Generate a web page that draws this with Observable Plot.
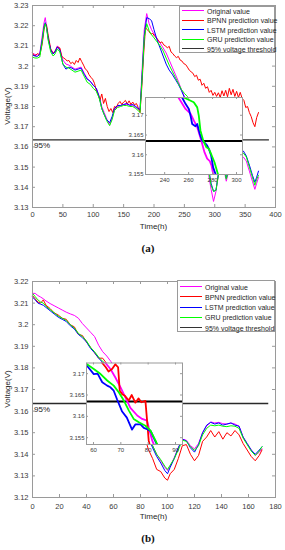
<!DOCTYPE html>
<html><head><meta charset="utf-8">
<script src="https://cdn.jsdelivr.net/npm/d3@7"></script>
<script src="https://cdn.jsdelivr.net/npm/@observablehq/plot@0.6"></script>
<style>
body{margin:0;background:#fff;}
#root{position:relative;width:285px;height:550px;overflow:hidden;font-family:"Liberation Sans",Arial,sans-serif;background:#fff;}
.lbl{position:absolute;white-space:nowrap;line-height:1;color:#262626;}
.legend{position:absolute;background:#fff;border:1px solid #9a9a9a;box-sizing:border-box;}
.legend .row{position:absolute;left:0;width:100%;height:0;}
.legend .sw{position:absolute;left:2px;width:22px;top:-1px;height:0;border-top:1.6px solid;}
.legend .tx{position:absolute;left:27px;top:-4.5px;font-size:7px;line-height:9px;color:#262626;white-space:nowrap;}
</style></head>
<body><div id="root"></div>
<script>
// ---------------- data: panel (a) ----------------
const timeA = [0,4,8,12,16,19,21,23,26,30,
  34,37,41,45,50,55,60,65,70,75,
  80,85,90,95,100,105,110,114,118,122,
  127,131,135,140,145,150,155,160,165,170,
  174,177,180,184,188,192,196,200,205,210,
  215,220,225,230,235,240,245,250,255,260,
  265,270,275,280,285,290,294,298,302,306,
  310,315,319,323,328,335,341,347,352,357,
  362,366,369,372];
const originalA = [3.2062,3.2058,3.2055,3.2062,3.2150,3.2215,3.2240,3.2200,3.2130,3.2080,
  3.2060,3.2075,3.2100,3.2085,3.2030,3.2010,3.2005,3.1995,3.1985,3.1990,
  3.1995,3.1965,3.1940,3.1925,3.1905,3.1890,3.1850,3.1800,3.1770,3.1740,
  3.1710,3.1740,3.1785,3.1800,3.1805,3.1810,3.1810,3.1810,3.1805,3.1795,
  3.1790,3.1780,3.1960,3.2180,3.2260,3.2210,3.2180,3.2160,3.2135,3.2115,
  3.2090,3.2065,3.2030,3.1995,3.1960,3.1925,3.1885,3.1850,3.1800,3.1740,
  3.1690,3.1640,3.1590,3.1540,3.1500,3.1460,3.1390,3.1330,3.1380,3.1460,
  3.1520,3.1490,3.1430,3.1480,3.1540,3.1570,3.1565,3.1550,3.1530,3.1480,
  3.1430,3.1390,3.1420,3.1450];
const lstmA = [3.2055,3.2050,3.2048,3.2058,3.2130,3.2195,3.2215,3.2195,3.2135,3.2080,
  3.2060,3.2070,3.2095,3.2080,3.2010,3.1985,3.1995,3.1990,3.1980,3.1985,
  3.1990,3.1960,3.1935,3.1925,3.1905,3.1890,3.1845,3.1790,3.1760,3.1735,
  3.1720,3.1750,3.1790,3.1805,3.1805,3.1810,3.1815,3.1805,3.1810,3.1800,
  3.1790,3.1785,3.1930,3.2150,3.2240,3.2235,3.2225,3.2180,3.2130,3.2090,
  3.2050,3.2010,3.1980,3.1960,3.1935,3.1910,3.1880,3.1845,3.1800,3.1750,
  3.1700,3.1650,3.1610,3.1570,3.1530,3.1490,3.1420,3.1380,3.1385,3.1470,
  3.1540,3.1510,3.1445,3.1500,3.1560,3.1590,3.1595,3.1580,3.1555,3.1510,
  3.1460,3.1425,3.1450,3.1480];
const gruA = [3.2045,3.2040,3.2040,3.2045,3.2120,3.2190,3.2210,3.2190,3.2125,3.2070,
  3.2050,3.2060,3.2085,3.2070,3.2010,3.1995,3.1990,3.1980,3.1970,3.1975,
  3.1980,3.1950,3.1920,3.1910,3.1890,3.1875,3.1840,3.1790,3.1760,3.1730,
  3.1705,3.1735,3.1780,3.1795,3.1800,3.1805,3.1805,3.1800,3.1800,3.1790,
  3.1780,3.1770,3.1920,3.2140,3.2210,3.2175,3.2155,3.2140,3.2120,3.2100,
  3.2075,3.2040,3.2005,3.1975,3.1945,3.1915,3.1885,3.1865,3.1850,3.1830,
  3.1780,3.1690,3.1630,3.1580,3.1530,3.1480,3.1410,3.1380,3.1385,3.1460,
  3.1530,3.1500,3.1440,3.1490,3.1550,3.1580,3.1585,3.1570,3.1550,3.1500,
  3.1450,3.1410,3.1440,3.1460];
// BPNN (a) has its own, denser time base (noisy curve)
const timeBpnnA = [0,4,8,12,16,19,21,23,26,30,34,37,41,45,
  48,51,54,57,60,63,66,69,72,75,
  78,81,84,87,90,93,96,99,102,105,
  108,111,114,117,120,123,126,129,132,135,
  138,141,144,147,150,153,156,159,162,165,
  168,171,174,177,180,183,186,189,192,195,
  198,201,204,207,210,213,216,219,222,225,
  228,231,234,237,240,243,246,249,252,255,
  258,261,264,267,270,273,276,279,282,285,
  288,291,294,297,300,303,306,309,312,315,
  318,321,324,327,330,333,336,339,342,345,
  348,351,354,357,360,363,366,369,372];
const bpnnA = [3.2065,3.2050,3.2062,3.2055,3.2110,3.2180,3.2210,3.2205,3.2150,3.2085,3.2065,3.2070,3.2095,3.2090,
  3.2050,3.2040,3.2035,3.2025,3.2028,3.2012,3.2020,3.2008,3.2028,3.2018,
  3.2040,3.2022,3.2005,3.1985,3.1978,3.1958,3.1945,3.1935,3.1915,3.1880,
  3.1860,3.1830,3.1862,3.1815,3.1840,3.1800,3.1775,3.1790,3.1770,3.1800,
  3.1795,3.1815,3.1825,3.1810,3.1822,3.1830,3.1812,3.1828,3.1810,3.1822,
  3.1808,3.1815,3.1795,3.1770,3.1900,3.2060,3.2190,3.2180,3.2170,3.2158,
  3.2162,3.2148,3.2140,3.2128,3.2115,3.2120,3.2105,3.2100,3.2090,3.2098,
  3.2070,3.2062,3.2050,3.2042,3.2048,3.2030,3.2025,3.2012,3.2008,3.1995,
  3.1980,3.1972,3.1965,3.1948,3.1955,3.1930,3.1935,3.1905,3.1915,3.1890,
  3.1898,3.1870,3.1880,3.1855,3.1870,3.1850,3.1868,3.1845,3.1878,3.1852,
  3.1880,3.1848,3.1890,3.1858,3.1885,3.1850,3.1875,3.1845,3.1870,3.1840,
  3.1830,3.1795,3.1800,3.1770,3.1750,3.1720,3.1700,3.1745,3.1770];

// inset (a) as drawn
const insetA_tOriginal = [248,250.4,253.2,257.4,261.6,264.3,267.2,269.3,271.3,273.3,275.5,277.7,279.1,280.5,282];
const insetA_vOriginal = [3.1765,3.1750,3.1737,3.1716,3.1704,3.1687,3.1670,3.1649,3.1628,3.1606,3.1590,3.1584,3.1573,3.1552,3.1535];
const insetA_tLstm = [252,254.6,257.4,260.2,261.6,263,265.7,267.2,269.3,271.3,274.1,275.5,276.9,278.8,280.5,282.4,284];
const insetA_vLstm = [3.1760,3.1745,3.1729,3.1716,3.1699,3.1678,3.1672,3.1678,3.1653,3.1636,3.1628,3.1623,3.1615,3.1598,3.1568,3.1552,3.1535];
const insetA_tGru = [254,256,264.3,267.2,268.5,269.9,272.2,274.9,276.9,278.8,281.6,284.4,286];
const insetA_vGru = [3.1760,3.1745,3.1733,3.1720,3.1699,3.1661,3.1636,3.1619,3.1615,3.1602,3.1581,3.1552,3.1535];

// ---------------- data: panel (b) ----------------
const timeB = [0,2,4,6,8,10,13,16,19,22,
  25,28,31,34,37,40,43,46,49,52,
  55,58,62,66,70,74,78,82,86,89,
  92,95,98,100,102,105,108,111,114,117,
  120,123,126,129,132,135,138,141,144,147,
  150,153,156,159,162,165,168,170];
const originalB = [3.2145,3.2145,3.2135,3.2128,3.2120,3.2110,3.2098,3.2088,3.2078,3.2068,
  3.2058,3.2050,3.2043,3.2030,3.2005,3.1985,3.1965,3.1945,3.1905,3.1875,
  3.1855,3.1830,3.1790,3.1740,3.1680,3.1620,3.1590,3.1540,3.1480,3.1440,
  3.1400,3.1370,3.1340,3.1325,3.1345,3.1385,3.1430,3.1470,3.1465,3.1440,
  3.1425,3.1450,3.1500,3.1530,3.1550,3.1545,3.1548,3.1542,3.1540,3.1545,
  3.1540,3.1530,3.1480,3.1450,3.1420,3.1395,3.1410,3.1425];
const bpnnB = [3.2135,3.2120,3.2105,3.2100,3.2115,3.2090,3.2075,3.2055,3.2045,3.2030,
  3.2025,3.2000,3.1990,3.1955,3.1950,3.1920,3.1895,3.1870,3.1845,3.1845,
  3.1820,3.1800,3.1740,3.1710,3.1655,3.1645,3.1635,3.1500,3.1420,3.1380,
  3.1330,3.1320,3.1290,3.1280,3.1310,3.1330,3.1380,3.1440,3.1445,3.1400,
  3.1370,3.1395,3.1460,3.1480,3.1510,3.1480,3.1505,3.1470,3.1500,3.1485,
  3.1510,3.1490,3.1450,3.1420,3.1390,3.1370,3.1395,3.1420];
const lstmB = [3.2128,3.2115,3.2100,3.2095,3.2090,3.2080,3.2065,3.2050,3.2035,3.2025,
  3.2015,3.1995,3.1980,3.1955,3.1940,3.1920,3.1890,3.1870,3.1845,3.1825,
  3.1810,3.1770,3.1720,3.1680,3.1630,3.1580,3.1570,3.1540,3.1475,3.1430,
  3.1390,3.1360,3.1325,3.1310,3.1340,3.1380,3.1430,3.1470,3.1462,3.1430,
  3.1410,3.1445,3.1500,3.1535,3.1548,3.1540,3.1545,3.1535,3.1540,3.1545,
  3.1535,3.1530,3.1480,3.1450,3.1420,3.1400,3.1420,3.1435];
const gruB = [3.2145,3.2130,3.2115,3.2105,3.2100,3.2085,3.2070,3.2055,3.2040,3.2030,
  3.2020,3.2000,3.1985,3.1960,3.1945,3.1925,3.1895,3.1875,3.1850,3.1830,
  3.1815,3.1790,3.1740,3.1690,3.1650,3.1600,3.1580,3.1545,3.1480,3.1440,
  3.1400,3.1375,3.1345,3.1330,3.1350,3.1380,3.1420,3.1465,3.1460,3.1435,
  3.1418,3.1440,3.1490,3.1520,3.1535,3.1532,3.1535,3.1530,3.1528,3.1532,
  3.1530,3.1520,3.1475,3.1445,3.1415,3.1395,3.1415,3.1435];

// inset (b) as drawn
const insetB_tOriginal = [63,64.4,66.2,68,69.9,71.7,73.5,76,77.8,79.6,80.2,81.5,83];
const insetB_vOriginal = [3.1735,3.1725,3.1711,3.1691,3.1668,3.1644,3.1620,3.1602,3.1594,3.1590,3.1574,3.1543,3.1520];
const insetB_tBpnn = [61,63.2,64.5,65.5,66.8,68,69,69.6,70.5,71.5,72.9,74,75.3,76.5,77.5,79,79.6,80.2,81];
const insetB_vBpnn = [3.1740,3.1725,3.1715,3.1705,3.1711,3.1722,3.1715,3.1660,3.1652,3.1648,3.1637,3.1650,3.1632,3.1642,3.1633,3.1636,3.1590,3.1543,3.1520];
const insetB_tLstm = [57,57.7,60.1,61.5,63.2,65,66.2,67.4,68.6,70.4,72.2,74.1,75.3,77.2,78.4,79.6,81,82,83.5];
const insetB_vLstm = [3.1725,3.1718,3.1699,3.1700,3.1680,3.1672,3.1668,3.1660,3.1640,3.1612,3.1597,3.1569,3.1581,3.1581,3.1573,3.1570,3.1565,3.1550,3.1530];
const insetB_tGru = [57,60.1,62.6,65,67.4,69.3,71.1,72.9,74.7,76.6,79,80.8,82.7,84];
const insetB_vGru = [3.1725,3.1711,3.1699,3.1684,3.1672,3.1656,3.1637,3.1614,3.1594,3.1586,3.1578,3.1567,3.1543,3.1525];

// ---------------- ticks, labels ----------------
const threshold = 3.1635;
const xTicksA = [0,50,100,150,200,250,300,350,400];
const yTicksA = [3.13,3.14,3.15,3.16,3.17,3.18,3.19,3.2,3.21,3.22,3.23];
const xTicksB = [0,20,40,60,80,100,120,140,160,180];
const yTicksB = [3.12,3.13,3.14,3.15,3.16,3.17,3.18,3.19,3.2,3.21,3.22];
const insetXTicksA = [240,260,280,300];
const insetYTicksA = [3.155,3.16,3.165,3.17];
const insetXTicksB = [60,70,80,90];
const insetYTicksB = [3.155,3.16,3.165,3.17];
const seriesNames = ["Original value","BPNN prediction value","LSTM prediction value","GRU prediction value","95% voltage threshold"];
const seriesColors = ["#ff00ff","#ff0000","#0000ff","#00ff00","#333333"];

// ---------------- helpers ----------------
const AX = "#9a9a9a", TXT = "#3a3a3a";
const fmt = d => String(+d.toFixed(3));
const pts = (t, v) => t.map((d, i) => ({t: d, v: v[i]}));

function boxTicks(xt, yt, xd, yd, kx, ky) {
  return [
    Plot.ruleX(xt, {x: d => d, y1: yd[0], y2: yd[0] + ky, stroke: AX}),
    Plot.ruleX(xt, {x: d => d, y1: yd[1] - ky, y2: yd[1], stroke: AX}),
    Plot.ruleY(yt, {y: d => d, x1: xd[0], x2: xd[0] + kx, stroke: AX}),
    Plot.ruleY(yt, {y: d => d, x1: xd[1] - kx, x2: xd[1], stroke: AX})
  ];
}

function mainPlot(o) {
  const pw = o.width - o.ml - o.mr, ph = o.height - o.mt - o.mb;
  const kx = (o.xd[1]-o.xd[0]) * 3 / pw, ky = (o.yd[1]-o.yd[0]) * 3 / ph;
  return Plot.plot({
    width: o.width, height: o.height,
    marginLeft: o.ml, marginRight: o.mr, marginTop: o.mt, marginBottom: o.mb,
    style: {fontFamily: '"Liberation Sans", Arial, sans-serif', background: "transparent", overflow: "visible"},
    x: {domain: o.xd}, y: {domain: o.yd},
    marks: [
      Plot.ruleY([threshold], {x1: o.xd[0], x2: o.thrEnd, stroke: "#2a2a2a", strokeWidth: 1.4}),
      Plot.text([threshold], {x: o.xd[0], y: d => d, text: () => "95%", dx: 1.5, dy: 5.5, textAnchor: "start", fontSize: 8, fill: "#222"}),
      Plot.line(pts(o.t, o.orig), {x: "t", y: "v", stroke: seriesColors[0], strokeWidth: 1}),
      Plot.line(pts(o.tb, o.bpnn), {x: "t", y: "v", stroke: seriesColors[1], strokeWidth: 1}),
      Plot.line(pts(o.t, o.lstm), {x: "t", y: "v", stroke: seriesColors[2], strokeWidth: 1}),
      Plot.line(pts(o.t, o.gru), {x: "t", y: "v", stroke: seriesColors[3], strokeWidth: 1}),
      Plot.frame({stroke: AX}),
      ...boxTicks(o.xt, o.yt, o.xd, o.yd, kx, ky),
      Plot.axisX({ticks: o.xt, tickSize: 0, tickPadding: o.xpad, fontSize: 7.5, fill: TXT, label: null, tickFormat: d => String(d)}),
      Plot.axisY({ticks: o.yt, tickSize: 0, tickPadding: 4, fontSize: 7.5, fill: TXT, label: null, tickFormat: fmt})
    ]
  });
}

function insetPlot(o) {
  const pw = o.width - o.ml - o.mr, ph = o.height - o.mt - o.mb;
  const kx = (o.xd[1]-o.xd[0]) * 2 / pw, ky = (o.yd[1]-o.yd[0]) * 2 / ph;
  const marks = [Plot.frame({fill: "white", stroke: "none"})];
  marks.push(Plot.ruleY([threshold], {x1: o.xd[0], x2: o.xd[1], stroke: "#000", strokeWidth: 2}));
  for (const s of o.series) {
    marks.push(Plot.line(pts(s.t, s.v), {x: "t", y: "v", stroke: s.color, strokeWidth: 1.8, clip: true}));
  }
  marks.push(Plot.frame({stroke: AX}));
  marks.push(...boxTicks(o.xt, o.yt, o.xd, o.yd, kx, ky));
  marks.push(Plot.axisX({ticks: o.xt, tickSize: 0, tickPadding: 3, fontSize: 6, fill: TXT, label: null, tickFormat: d => String(d)}));
  marks.push(Plot.axisY({ticks: o.yt, tickSize: 0, tickPadding: 2, fontSize: 6, fill: TXT, label: null, tickFormat: fmt}));
  return Plot.plot({
    width: o.width, height: o.height,
    marginLeft: o.ml, marginRight: o.mr, marginTop: o.mt, marginBottom: o.mb,
    style: {fontFamily: '"Liberation Sans", Arial, sans-serif', background: "transparent", overflow: "visible"},
    x: {domain: o.xd}, y: {domain: o.yd},
    marks
  });
}

const root = document.getElementById("root");
function place(node, left, top) {
  node.style.position = "absolute"; node.style.left = left + "px"; node.style.top = top + "px";
  root.appendChild(node);
}
function label(text, cx, cy, size, extra = "", rot = false) {
  const d = document.createElement("div");
  d.className = "lbl";
  d.textContent = text;
  d.style.left = cx + "px"; d.style.top = cy + "px";
  d.style.fontSize = size + "px";
  d.style.transform = "translate(-50%,-50%)" + (rot ? " rotate(-90deg)" : "");
  d.style.cssText += extra;
  root.appendChild(d);
}
function legend(left, top, w, h, y0, step) {
  const box = document.createElement("div");
  box.className = "legend";
  box.style.left = left + "px"; box.style.top = top + "px";
  box.style.width = w + "px"; box.style.height = h + "px";
  seriesNames.forEach((n, i) => {
    const r = document.createElement("div");
    r.className = "row"; r.style.top = (y0 + i * step) + "px";
    const sw = document.createElement("div"); sw.className = "sw"; sw.style.borderTopColor = seriesColors[i];
    const tx = document.createElement("div"); tx.className = "tx"; tx.textContent = n;
    r.appendChild(sw); r.appendChild(tx); box.appendChild(r);
  });
  root.appendChild(box);
}

// ---------------- panel (a) ----------------
place(mainPlot({width: 285, height: 235, ml: 32, mr: 10, mt: 5, mb: 28,
  xd: [0, 400], yd: [3.13, 3.23], xt: xTicksA, yt: yTicksA, xpad: 4, thrEnd: 390,
  t: timeA, tb: timeBpnnA, orig: originalA, bpnn: bpnnA, lstm: lstmA, gru: gruA}), 0, 0);

place(insetPlot({width: 135, height: 95, ml: 32, mr: 6, mt: 4, mb: 14,
  xd: [224, 305], yd: [3.155, 3.1745], xt: insetXTicksA, yt: insetYTicksA,
  series: [
    {t: insetA_tOriginal, v: insetA_vOriginal, color: seriesColors[0]},
    {t: insetA_tLstm, v: insetA_vLstm, color: seriesColors[2]},
    {t: insetA_tGru, v: insetA_vGru, color: seriesColors[3]}
  ]}), 113, 93);

legend(179, 6, 96, 47, 4, 9.5);
label("Voltage(V)", 7.5, 106, 8, "", true);
label("Time(h)", 153.5, 227, 8);
label("(a)", 148, 248, 11, "font-weight:bold;font-family:'Liberation Serif',serif;color:#111;");

// ---------------- panel (b) ----------------
place(mainPlot({width: 285, height: 260, ml: 32, mr: 10, mt: 11, mb: 33,
  xd: [0, 180], yd: [3.12, 3.22], xt: xTicksB, yt: yTicksB, xpad: 6, thrEnd: 175,
  t: timeB, tb: timeB, orig: originalB, bpnn: bpnnB, lstm: lstmB, gru: gruB}), 0, 270);

place(insetPlot({width: 132, height: 100, ml: 30, mr: 6, mt: 4.5, mb: 14,
  xd: [57.44, 92.56], yd: [3.1534, 3.1725], xt: insetXTicksB, yt: insetYTicksB,
  series: [
    {t: insetB_tOriginal, v: insetB_vOriginal, color: seriesColors[0]},
    {t: insetB_tBpnn, v: insetB_vBpnn, color: seriesColors[1]},
    {t: insetB_tLstm, v: insetB_vLstm, color: seriesColors[2]},
    {t: insetB_tGru, v: insetB_vGru, color: seriesColors[3]}
  ]}), 56, 358);

legend(177, 280, 98, 52, 6, 10.25);
label("Voltage(V)", 7.5, 389, 8, "", true);
label("Time(h)", 153.5, 517, 8);
label("(b)", 148, 538, 11, "font-weight:bold;font-family:'Liberation Serif',serif;color:#111;");
</script>
</body></html>
